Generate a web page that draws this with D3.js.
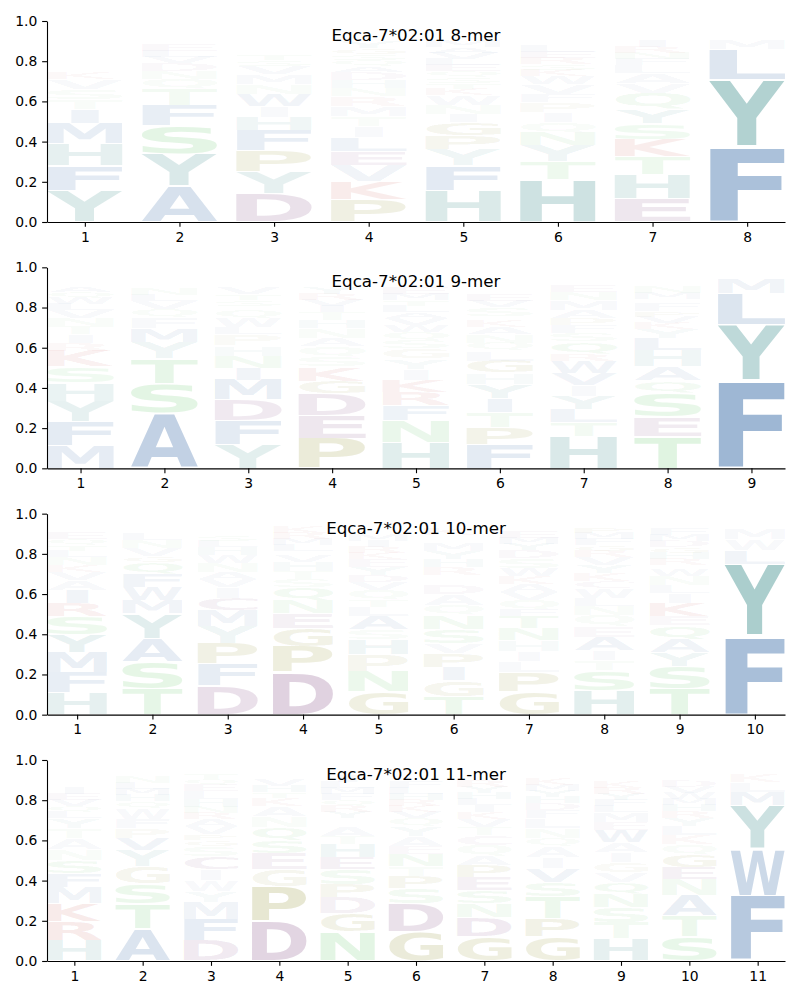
<!DOCTYPE html>
<html>
<head>
<meta charset="utf-8">
<script src="https://d3js.org/d3.v7.min.js"></script>
<style>
  body { margin: 0; background: #fff; }
  text { font-family: "DejaVu Sans", sans-serif; }
</style>
</head>
<body>
<svg id="chart" width="800" height="1000"></svg>
<script>
// letter frequencies per position, listed bottom -> top of each stack
const allele = 'Eqca-7*02:01'

const mer8 = [
  {Y:.155,F:.125,H:.11,M:.10,I:.07,T:.05,S:.05,V:.05,K:.03,Q:.025,N:.025,R:.02,W:.02,A:.02,L:.02,E:.02,G:.02,P:.02,D:.015,C:.01},
  {A:.18,Y:.16,S:.14,F:.10,T:.08,Q:.05,N:.04,D:.04,V:.03,L:.03,E:.03,G:.02,W:.02,P:.02,K:.02,R:.01},
  {D:.14,Y:.11,P:.105,F:.10,H:.065,I:.055,W:.06,N:.05,M:.05,V:.04,S:.03,T:.03,K:.02,R:.02,E:.02,L:.02,Q:.02,G:.01,A:.01,C:.01},
  {P:.11,K:.09,V:.08,E:.07,L:.07,I:.055,T:.05,M:.05,R:.05,N:.04,H:.04,D:.04,A:.03,Q:.03,S:.03,G:.03,Y:.03,W:.02,F:.02,C:.02},
  {H:.155,F:.125,Y:.08,P:.07,G:.065,I:.04,N:.045,W:.05,K:.03,T:.03,S:.03,Q:.03,E:.03,L:.03,V:.03,A:.03,M:.03,D:.02,R:.02,C:.01},
  {H:.21,T:.09,Y:.08,N:.065,Q:.05,I:.05,P:.05,F:.04,V:.05,W:.04,K:.03,S:.03,R:.03,E:.03,L:.03,M:.02,A:.02,D:.02,G:.02,C:.01},
  {E:.115,H:.12,T:.09,K:.085,S:.08,Y:.07,Q:.08,V:.05,A:.05,L:.04,F:.03,N:.03,R:.03,I:.03,M:.02,D:.02,W:.02,G:.01},
  {F:.375,Y:.335,L:.15,M:.05,W:.02,I:.02,V:.02,H:.01}
]

const mer9 = [
  {M:.115,F:.12,Y:.10,H:.09,S:.08,K:.08,R:.04,I:.04,T:.04,N:.04,V:.04,L:.03,W:.03,Q:.03,A:.03,E:.02,P:.02,G:.01,D:.01},
  {A:.275,S:.145,T:.125,Y:.08,M:.07,F:.055,Q:.04,V:.04,L:.03,N:.03,W:.02,K:.02,E:.02,H:.01,R:.01,D:.01},
  {Y:.12,F:.12,D:.10,M:.10,I:.06,N:.06,H:.05,P:.055,L:.035,W:.045,Q:.04,K:.02,S:.03,T:.03,V:.03,A:.02,G:.02,R:.01,C:.01},
  {P:.15,E:.115,D:.105,G:.065,K:.07,S:.05,Q:.05,A:.04,N:.05,H:.04,T:.04,I:.03,V:.03,R:.03,Y:.03,F:.02,M:.02,W:.02,L:.02},
  {H:.13,N:.11,F:.075,R:.065,K:.06,I:.055,Y:.05,G:.05,S:.04,Q:.04,W:.035,V:.035,A:.03,L:.03,T:.03,M:.03,E:.03,P:.02,D:.02,C:.01},
  {F:.12,P:.085,T:.075,I:.07,Y:.07,H:.055,G:.06,L:.05,Q:.04,N:.04,A:.035,K:.03,R:.025,S:.045,V:.03,E:.03,W:.02,M:.02,D:.02,C:.01},
  {H:.16,T:.07,L:.065,Y:.065,I:.055,V:.06,W:.06,R:.035,Q:.06,S:.04,F:.04,P:.035,A:.04,M:.05,N:.04,E:.03,D:.02,G:.02,K:.02},
  {T:.16,E:.095,S:.12,Q:.06,A:.07,H:.08,L:.06,Y:.045,K:.03,V:.03,P:.03,F:.04,G:.02,M:.03,N:.03,R:.02,I:.02,D:.02},
  {F:.435,Y:.28,L:.155,M:.075,W:.02,I:.015}
]

const mer10 = [
  {H:.11,F:.10,M:.10,Y:.09,S:.09,R:.065,I:.065,A:.05,V:.04,K:.035,N:.04,L:.03,T:.03,Q:.03,E:.03,G:.02,W:.02,P:.02,D:.01},
  {T:.13,S:.135,A:.115,Y:.125,M:.065,W:.065,F:.065,Q:.06,G:.03,V:.04,N:.04,L:.03,E:.02,K:.02,H:.02,P:.01},
  {D:.145,F:.11,P:.10,Y:.085,M:.08,C:.06,I:.055,V:.04,A:.035,N:.045,W:.04,H:.04,L:.03,S:.03,T:.02,Q:.02,E:.02,G:.01},
  {D:.21,P:.13,G:.09,E:.075,N:.065,Q:.065,S:.04,T:.04,H:.045,V:.03,A:.025,L:.03,M:.03,R:.03,K:.03,Y:.02,F:.02},
  {G:.115,N:.10,P:.085,H:.075,S:.05,A:.065,L:.045,T:.035,Q:.05,V:.04,D:.035,Y:.04,E:.04,K:.03,R:.03,I:.03,M:.03,W:.02,C:.02},
  {T:.09,G:.08,I:.065,P:.07,V:.05,S:.07,N:.07,Q:.05,A:.055,D:.045,E:.025,F:.025,R:.04,H:.04,Y:.04,M:.04,W:.02,C:.02,K:.03},
  {G:.115,P:.095,L:.055,I:.05,H:.055,N:.06,T:.06,F:.03,Q:.05,V:.04,A:.04,K:.04,W:.04,S:.05,D:.04,Y:.03,M:.03,E:.03,R:.02,C:.02},
  {H:.12,S:.10,T:.05,I:.05,A:.065,E:.055,Q:.055,N:.045,L:.04,W:.05,C:.035,K:.04,Y:.04,V:.04,R:.03,G:.03,F:.03,M:.03,P:.03,D:.02},
  {T:.13,S:.11,Y:.07,A:.065,Q:.07,E:.045,K:.065,I:.05,L:.04,N:.045,W:.03,V:.025,R:.03,H:.03,G:.03,D:.03,M:.03,F:.03,P:.02},
  {F:.39,Y:.36,L:.07,W:.055,M:.055,I:.02,V:.02}
]

const mer11 = [
  {H:.10,R:.095,K:.09,M:.08,F:.07,S:.065,N:.055,A:.055,T:.05,Y:.05,L:.03,Q:.03,V:.03,E:.03,I:.03,G:.02,D:.02,P:.02,W:.02,C:.01},
  {A:.16,T:.125,S:.10,G:.085,Y:.08,V:.06,P:.05,F:.045,W:.055,Q:.035,H:.03,M:.03,L:.03,N:.03,E:.02,K:.02,D:.02},
  {D:.10,F:.105,M:.085,Y:.055,W:.055,I:.055,C:.065,S:.05,G:.03,P:.03,V:.04,A:.035,R:.03,N:.03,H:.04,L:.04,E:.03,Q:.03,T:.03,K:.02},
  {D:.195,P:.175,G:.085,E:.08,S:.065,Q:.065,N:.055,A:.05,K:.04,T:.03,H:.03,V:.03,Y:.02,L:.02,R:.02,I:.02},
  {N:.145,G:.09,D:.08,P:.065,S:.075,E:.06,H:.065,T:.04,A:.05,V:.02,K:.02,Y:.03,R:.03,Q:.03,F:.03,M:.03,L:.03,I:.03,W:.02},
  {G:.145,D:.14,S:.075,P:.06,T:.05,N:.06,E:.04,A:.05,Y:.05,Q:.04,V:.03,K:.03,R:.03,H:.03,L:.03,F:.03,M:.02,I:.02,W:.02},
  {G:.12,D:.095,N:.07,S:.065,E:.065,P:.06,A:.045,Q:.055,C:.05,T:.04,V:.04,K:.035,I:.035,L:.03,H:.03,Y:.03,R:.03,F:.02,M:.02},
  {G:.12,P:.09,T:.11,S:.07,V:.07,I:.055,A:.055,Q:.04,N:.05,L:.05,F:.04,D:.035,H:.03,Y:.03,M:.03,K:.03,R:.02,W:.02},
  {H:.11,T:.08,S:.075,N:.065,Q:.06,V:.05,G:.05,I:.05,A:.05,W:.06,E:.04,M:.05,L:.03,F:.03,Y:.03,R:.03,K:.03,D:.02,P:.02},
  {S:.12,T:.105,A:.10,N:.08,E:.06,G:.065,Q:.05,K:.045,L:.045,Y:.04,R:.035,H:.03,M:.03,W:.03,V:.03,D:.03,I:.02,P:.02,F:.02},
  {F:.325,W:.23,Y:.22,M:.065,L:.05,K:.04,H:.02}
]

const panels = [mer8, mer9, mer10, mer11]
const yTicks = [0, 0.2, 0.4, 0.6, 0.8, 1.0]

// NajafabadiEtAl2017 scheme
const colorGroups = {
  DEC: 'rgb(107,41,107)',
  PG: 'rgb(120,120,0)',
  MIWALFV: 'rgb(33,89,156)',
  NTSQ: 'rgb(64,186,71)',
  RK: 'rgb(189,46,31)',
  HY: 'rgb(23,120,117)'
}
const color = {}
Object.entries(colorGroups).forEach(([k, c]) => k.split('').forEach(ch => color[ch] = c))

const svg = d3.select('#chart')
const left = 47, right = 785, top0 = 21, plotH = 201, step = 246.33
const letterW = 0.8, vpad = 0.05
const font = '"DejaVu Sans"'

// tight ink box of each glyph, so letters can be stretched into their cells
const ctx = document.createElement('canvas').getContext('2d')
ctx.font = 'bold 100px ' + font
const metrics = {}
'ACDEFGHIKLMNPQRSTVWY'.split('').forEach(ch => {
  const m = ctx.measureText(ch)
  metrics[ch] = {l: m.actualBoundingBoxLeft, r: m.actualBoundingBoxRight,
                 a: m.actualBoundingBoxAscent, d: m.actualBoundingBoxDescent}
})
const eW = metrics.E.l + metrics.E.r

panels.forEach((data, i) => {
  const n = data.length
  const g = svg.append('g').attr('transform', `translate(0,${top0 + i * step})`)
  const x = d3.scaleLinear().domain([0.6, n + 0.4]).range([left, right])
  const y = d3.scaleLinear().domain([0, 1]).range([plotH, 0])

  let letters = []
  data.forEach((pos, j) => {
    let base = 0
    Object.entries(pos).forEach(([ch, v]) => {
      letters.push({ch, v, pos: j + 1, y0: base})
      base += v
    })
  })

  g.append('g')
    .selectAll('text')
    .data(letters)
    .join('text')
      .text(d => d.ch)
      .attr('font-size', 100)
      .attr('font-weight', 'bold')
      .attr('fill', d => color[d.ch])
      .attr('fill-opacity', d => d.v)
      .attr('transform', d => {
        const m = metrics[d.ch]
        const bx = x(d.pos - letterW / 2), bw = x(d.pos + letterW / 2) - bx
        const yt = y(d.y0 + d.v * (1 - vpad / 2)), yb = y(d.y0 + d.v * vpad / 2)
        const w = m.l + m.r
        const sx = bw / Math.max(w, eW)
        const sy = (yb - yt) / (m.a + m.d)
        const gx = bx + (bw - w * sx) / 2 + m.l * sx
        const gy = yt + m.a * sy
        return `translate(${gx},${gy}) scale(${sx},${sy})`
      })

  const ya = g.append('g').attr('transform', `translate(${left},0)`)
    .call(d3.axisLeft(y).tickValues(yTicks).tickFormat(d3.format('.1f'))
      .tickSize(4.86).tickPadding(4.86).tickSizeOuter(0))
  const xa = g.append('g').attr('transform', `translate(0,${plotH})`)
    .call(d3.axisBottom(x).tickValues(d3.range(1, n + 1))
      .tickSize(4.86).tickPadding(4.86).tickSizeOuter(0))
  ;[ya, xa].forEach(a => {
    a.attr('font-size', 13.9).attr('font-family', font)
    a.selectAll('path, line').attr('stroke-width', 1.1)
  })

  g.append('text')
    .attr('x', (left + right) / 2)
    .attr('y', 20)
    .attr('text-anchor', 'middle')
    .attr('font-size', 16.7)
    .attr('fill', '#000')
    .text(`${allele} ${n}-mer`)
})
</script>
</body>
</html>
